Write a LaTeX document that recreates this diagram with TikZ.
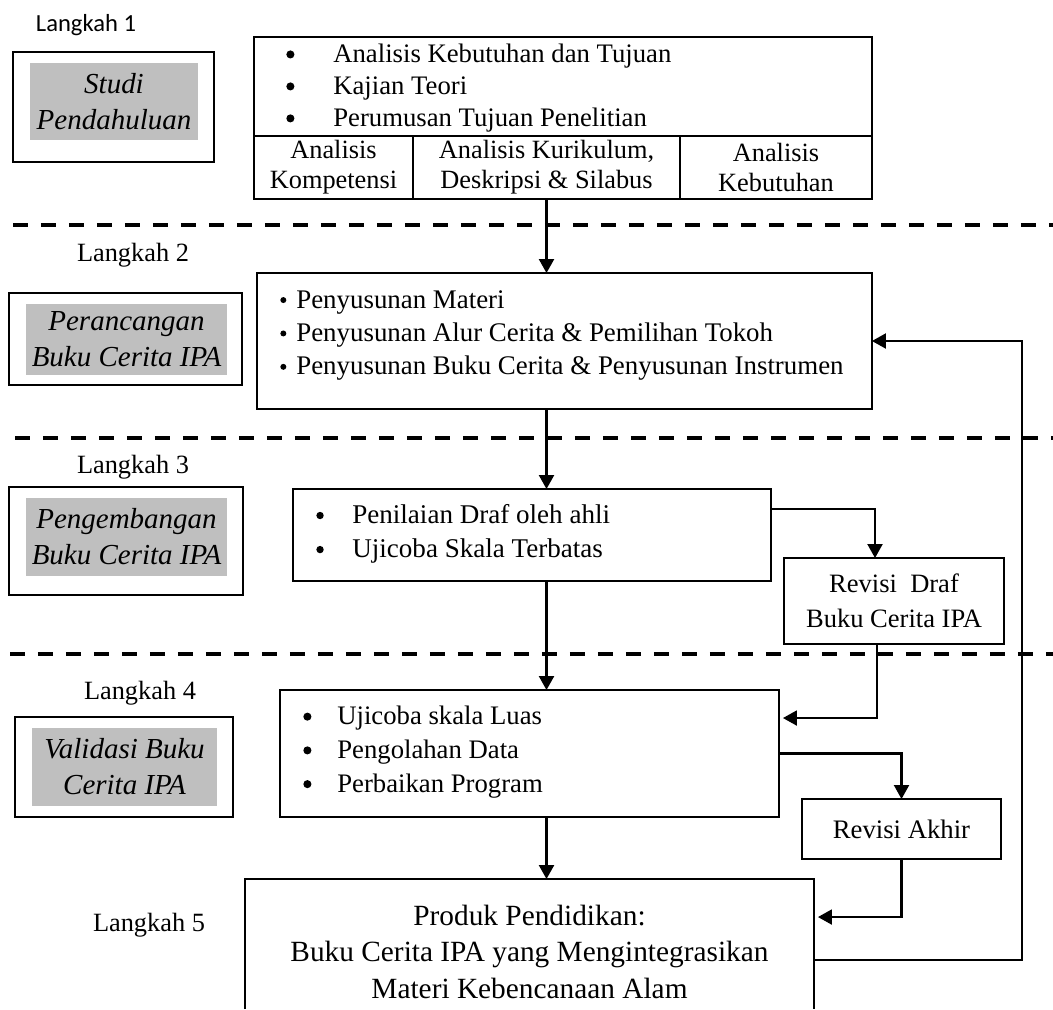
\documentclass[tikz,border=0pt]{standalone}
\usepackage{fontspec}
\setmainfont{Liberation Serif}
\newfontfamily\calibri{Carlito}
\usetikzlibrary{arrows.meta,calc}

\newcommand{\itm}[3]{\makebox[#1][l]{\tikz[baseline=-0.3em]\fill (0,0) circle (#2);}#3}

\begin{document}
\begin{tikzpicture}[x=0.02cm,y=-0.02cm]
	\tikzset{BoxStyle/.style={draw, line width=1.2pt, inner sep=0pt, outer sep=0pt},
		ShadeStyle/.style={fill=gray!50, inner sep=0pt, align=center,
			font=\fontsize{16.5}{20.5}\selectfont\itshape},
		StepStyle/.style={font=\fontsize{15}{18}\selectfont},
		ListStyle/.style={anchor=west, align=left, inner sep=0pt},
		CellStyle/.style={BoxStyle, align=center, minimum height=1.26cm,
			font=\fontsize{15}{17}\selectfont},
		EdgeStyle/.style={line width=1.3pt, -{Triangle[width=0.3cm,length=0.28cm]}},
		SideEdge/.style={EdgeStyle, line width=1.2pt},
		DashStyle/.style={line width=2.2pt, dash pattern=on 0.3cm off 0.26cm}}
	\useasboundingbox (0,0) rectangle (1053,1009);
	% step labels
	\node[font=\calibri\fontsize{14}{16}\selectfont] (L1) at (86,25) {Langkah 1};
	\node[StepStyle] (L2) at (133,255) {Langkah 2};
	\node[StepStyle] (L3) at (133,467) {Langkah 3};
	\node[StepStyle] (L4) at (140,693) {Langkah 4};
	\node[StepStyle] (L5) at (149,925) {Langkah 5};
	% side boxes
	\node[BoxStyle, minimum width=4.02cm, minimum height=2.2cm] (S1) at (113.5,107) {};
	\node[ShadeStyle, minimum width=3.36cm, minimum height=1.54cm] (S1t) at (114,101.5) {Studi\\Pendahuluan};
	\node[BoxStyle, minimum width=4.66cm, minimum height=1.84cm] (S2) at (125.5,339) {};
	\node[ShadeStyle, minimum width=4.02cm, minimum height=1.42cm] (S2t) at (126.5,339.5) {Perancangan\\Buku Cerita IPA};
	\node[BoxStyle, minimum width=4.68cm, minimum height=2.16cm] (S3) at (126,541) {};
	\node[ShadeStyle, minimum width=4.02cm, minimum height=1.56cm] (S3t) at (126.5,537) {Pengembangan\\Buku Cerita IPA};
	\node[BoxStyle, minimum width=4.36cm, minimum height=2cm] (S4) at (124,767) {};
	\node[ShadeStyle, minimum width=3.7cm, minimum height=1.56cm] (S4t) at (124.5,767) {Validasi Buku\\Cerita IPA};
	% step 1
	\node[BoxStyle, line width=1.4pt, minimum width=12.36cm, minimum height=1.98cm] (A) at (563,86.5) {};
	\node[ListStyle, font=\fontsize{15.2}{18.2}\selectfont] (Al) at (286,88)
		{\itm{0.94cm}{2.3pt}{Analisis Kebutuhan dan Tujuan}\\ \itm{0.94cm}{2.3pt}{Kajian Teori}\\
		\itm{0.94cm}{2.3pt}{Perumusan Tujuan Penelitian}};
	\node[CellStyle, minimum width=3.18cm] (A1) at (333.5,167.5) {Analisis\\Kompetensi};
	\node[CellStyle, minimum width=5.34cm] (A2) at (546.5,167.5) {Analisis Kurikulum,\\Deskripsi \& Silabus};
	\node[CellStyle, minimum width=3.84cm] (A3) at (776,167.5) {Analisis\\Kebutuhan};
	% step 2
	\node[BoxStyle, minimum width=12.3cm, minimum height=2.72cm] (B) at (564.5,341) {};
	\node[ListStyle, font=\fontsize{15.3}{19}\selectfont] (Bl) at (280,335.5)
		{\itm{0.32cm}{1.7pt}{Penyusunan Materi}\\ \itm{0.32cm}{1.7pt}{Penyusunan Alur Cerita \& Pemilihan Tokoh}\\
		\itm{0.32cm}{1.7pt}{Penyusunan Buku Cerita \& Penyusunan Instrumen}};
	% step 3
	\node[BoxStyle, minimum width=9.56cm, minimum height=1.84cm] (C) at (532,535) {};
	\node[ListStyle, font=\fontsize{15.4}{19.4}\selectfont] (Cl) at (316,534)
		{\itm{0.72cm}{2.1pt}{Penilaian Draf oleh ahli}\\ \itm{0.72cm}{2.1pt}{Ujicoba Skala Terbatas}};
	\node[BoxStyle, minimum width=4.4cm, minimum height=1.72cm, align=center,
		font=\fontsize{15.1}{20}\selectfont] (R1) at (894,601) {Revisi\ \ Draf\\Buku Cerita IPA};
	% step 4
	\node[BoxStyle, minimum width=9.98cm, minimum height=2.54cm] (D) at (529.5,753.5) {};
	\node[ListStyle, font=\fontsize{15.2}{19.2}\selectfont] (Dl) at (303,752)
		{\itm{0.68cm}{2.3pt}{Ujicoba skala Luas}\\ \itm{0.68cm}{2.3pt}{Pengolahan Data}\\
		\itm{0.68cm}{2.3pt}{Perbaikan Program}};
	\node[BoxStyle, minimum width=3.98cm, minimum height=1.2cm,
		font=\fontsize{15.2}{18}\selectfont] (R2) at (901.5,829) {Revisi Akhir};
	% step 5
	\node[inner sep=0pt, outer sep=0pt, minimum width=11.38cm, minimum height=2.6cm] (E) at (529.5,944) {};
	\draw[line width=1.2pt] (E.south west) -- (E.north west) -- (E.north east) -- (E.south east);
	\node[align=center, font=\fontsize{16.7}{20.8}\selectfont] (Et) at (529.5,951.5)
		{Produk Pendidikan:\\Buku Cerita IPA yang Mengintegrasikan\\Materi Kebencanaan Alam};
	% separators
	\draw[DashStyle] (13,225) -- (1053,225);
	\draw[DashStyle] (15,438) -- (1053,438);
	\draw[DashStyle] (10,654) -- (1053,654);
	% flow
	\draw[EdgeStyle] (A2.south) -- (A2.south |- B.north);
	\draw[EdgeStyle] (B.south -| A2.south) -- (A2.south |- C.north);
	\draw[EdgeStyle] (C.south -| A2.south) -- (A2.south |- D.north);
	\draw[EdgeStyle] (D.south -| A2.south) -- (A2.south |- E.north);
	\draw[SideEdge] ($(C.north east)+(0,20)$) -| ($(R1.north)+(-19,0)$);
	\draw[SideEdge] ($(R1.south)+(-17,0)$) |- ($(D.north east)+(4,28)$);
	\draw[SideEdge] (D.east) -| (R2.north);
	\draw[SideEdge] (R2.south) |- ($(E.north east)+(4,38)$);
	\coordinate (fb) at (1022,341);
	\draw[SideEdge] ($(E.north east)+(0,81)$) -| (fb) -- (B.east);
\end{tikzpicture}
\end{document}
